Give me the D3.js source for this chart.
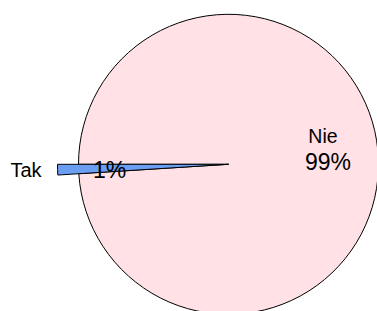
<!DOCTYPE html>
<html><head><meta charset="utf-8">
<script src="https://cdn.jsdelivr.net/npm/d3@7"></script>
<style>body{margin:0;background:#fff}svg{display:block}</style>
</head><body>
<svg id="c" width="377" height="311"></svg>
<script>
const categories = ["Nie", "Tak"];
const values = [99, 1];
const percentLabels = ["99%", "1%"];
const colors = ["#ffe1e6", "#6a9ef2"];

const svg = d3.select("#c");
const cx = 228.5, cy = 164.3, r = 150, rTak = 171;
const g = svg.append("g").attr("transform", `translate(${cx},${cy})`);

const pie = d3.pie().sort(null)
  .startAngle(3 * Math.PI / 2)
  .endAngle(3 * Math.PI / 2 + 2 * Math.PI)
  .value(d => d);
const arcs = pie(values);

arcs.forEach((a, i) => {
  const outer = i === 1 ? rTak : r;
  const arc = d3.arc().innerRadius(0).outerRadius(outer);
  g.append("path").attr("d", arc(a))
    .attr("fill", colors[i]).attr("stroke", "#000").attr("stroke-width", 1)
    .attr("stroke-linejoin", "miter");
});

const font = "Liberation Sans, Arial, sans-serif";
// Nie labels
svg.append("text").attr("x", 323).attr("y", 142.7).attr("text-anchor", "middle")
  .attr("font-family", font).attr("font-size", 19.5).text(categories[0]);
svg.append("text").attr("x", 328).attr("y", 169.5).attr("text-anchor", "middle")
  .attr("font-family", font).attr("font-size", 23).text(percentLabels[0]);
// Tak labels
svg.append("text").attr("x", 26).attr("y", 176.7).attr("text-anchor", "middle")
  .attr("font-family", font).attr("font-size", 20).text(categories[1]);
svg.append("text").attr("x", 109.5).attr("y", 177.5).attr("text-anchor", "middle")
  .attr("font-family", font).attr("font-size", 23).text(percentLabels[1]);
</script>
</body></html>
